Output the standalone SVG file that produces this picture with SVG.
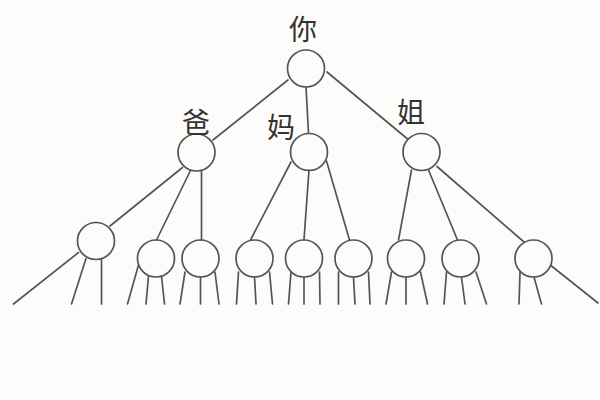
<svg xmlns="http://www.w3.org/2000/svg" width="600" height="400" viewBox="0 0 600 400">
<style>
.n{fill:none;stroke:#555;stroke-width:1.7}
.c line{stroke:#555;stroke-width:1.7;stroke-linecap:round}
.t{font-family:"Noto Sans CJK SC","Liberation Sans",sans-serif;font-size:28px;fill:#333;text-anchor:middle}
</style>
<rect width="600" height="400" fill="#fcfcfa"/>
<g id="connectors" class="c">
<line x1="288" y1="80" x2="213" y2="140"/>
<line x1="306" y1="87" x2="308.5" y2="133"/>
<line x1="327" y1="72" x2="407" y2="138.5"/>
<line x1="182.5" y1="167.5" x2="110" y2="226"/>
<line x1="78.5" y1="252.5" x2="13.5" y2="304"/>
<line x1="190.5" y1="170.5" x2="156.5" y2="240"/>
<line x1="201.5" y1="171" x2="201.5" y2="240"/>
<line x1="291" y1="162" x2="250.5" y2="240"/>
<line x1="309" y1="170" x2="304" y2="239.5"/>
<line x1="326.5" y1="161" x2="349.5" y2="240"/>
<line x1="411.5" y1="170" x2="398.5" y2="240"/>
<line x1="428.5" y1="170" x2="457.5" y2="240"/>
<line x1="437" y1="166.5" x2="524" y2="242"/>
<line x1="551.5" y1="266" x2="598" y2="303"/>
<line x1="86" y1="258.5" x2="71.5" y2="304"/>
<line x1="101.5" y1="259.5" x2="101.5" y2="304"/>
<line x1="138.5" y1="265" x2="127.5" y2="304"/>
<line x1="148.5" y1="276" x2="146" y2="304"/>
<line x1="161.5" y1="276" x2="164.5" y2="304"/>
<line x1="185" y1="272" x2="180" y2="304"/>
<line x1="200.5" y1="277" x2="200.5" y2="304"/>
<line x1="215" y1="272" x2="219" y2="304"/>
<line x1="238.5" y1="272" x2="236.5" y2="304"/>
<line x1="254.5" y1="277" x2="256" y2="304"/>
<line x1="269.5" y1="272" x2="272.5" y2="304"/>
<line x1="291" y1="272" x2="288.5" y2="304"/>
<line x1="304" y1="277" x2="304" y2="304"/>
<line x1="319.5" y1="272" x2="320" y2="304"/>
<line x1="338.5" y1="272" x2="338.5" y2="304"/>
<line x1="353.5" y1="277" x2="355" y2="304"/>
<line x1="368.5" y1="272" x2="370" y2="304"/>
<line x1="391.5" y1="272" x2="386" y2="304"/>
<line x1="406" y1="277" x2="406" y2="304"/>
<line x1="420.5" y1="272" x2="427.5" y2="304"/>
<line x1="446.5" y1="272" x2="444" y2="304"/>
<line x1="461.5" y1="277" x2="465" y2="304"/>
<line x1="476" y1="272" x2="486.5" y2="304"/>
<line x1="520" y1="272" x2="519" y2="304"/>
<line x1="534" y1="277" x2="541.5" y2="304"/>
</g>
<g id="node-you"><circle class="n" cx="306" cy="68.5" r="18.5"/><text class="t" x="303" y="40">你</text></g>
<g id="node-dad"><circle class="n" cx="196.5" cy="152.5" r="18.5"/><text class="t" x="196" y="133">爸</text></g>
<g id="node-mom"><circle class="n" cx="309" cy="152" r="18.5"/><text class="t" x="281" y="138">妈</text></g>
<g id="node-sister"><circle class="n" cx="421.5" cy="152" r="18.5"/><text class="t" x="411" y="123">姐</text></g>
<g id="node-a"><circle class="n" cx="96" cy="241" r="18.5"/></g>
<g id="node-b"><circle class="n" cx="156" cy="258.5" r="18.5"/></g>
<g id="node-c"><circle class="n" cx="200.5" cy="258.5" r="18.5"/></g>
<g id="node-d"><circle class="n" cx="254.5" cy="258.5" r="18.5"/></g>
<g id="node-e"><circle class="n" cx="304" cy="258.5" r="18.5"/></g>
<g id="node-f"><circle class="n" cx="353.5" cy="258.5" r="18.5"/></g>
<g id="node-g"><circle class="n" cx="406" cy="258.5" r="18.5"/></g>
<g id="node-h"><circle class="n" cx="460.5" cy="258.5" r="18.5"/></g>
<g id="node-i"><circle class="n" cx="533.5" cy="258.5" r="18.5"/></g>
</svg>
